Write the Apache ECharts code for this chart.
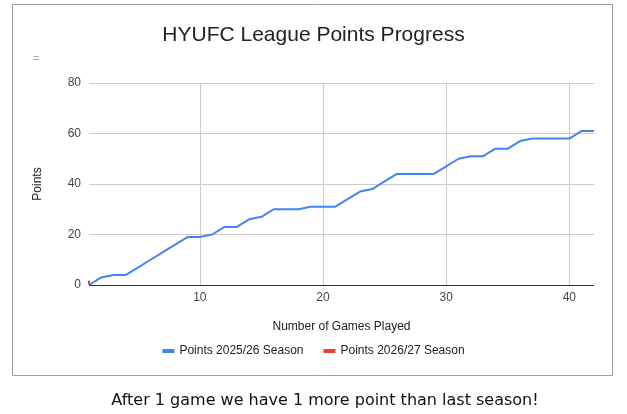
<!DOCTYPE html>
<html>
<head>
<meta charset="utf-8">
<script src="https://cdn.jsdelivr.net/npm/echarts@6/dist/echarts.min.js"></script>
<style>
html,body{margin:0;padding:0;background:#fff;}
#chart{width:627px;height:414px;}
</style>
</head>
<body>
<div id="chart"></div>
<script>
const games = [1,2,3,4,5,6,7,8,9,10,11,12,13,14,15,16,17,18,19,20,21,22,23,24,25,26,27,28,29,30,31,32,33,34,35,36,37,38,39,40,41,42];
const points2526 = [0,3,4,4,7,10,13,16,19,19,20,23,23,26,27,30,30,30,31,31,31,34,37,38,41,44,44,44,44,47,50,51,51,54,54,57,58,58,58,58,61,61];
const games2627 = [1];
const points2627 = [1];
const xTicks = [10,20,30,40];
const yTicks = [0,20,40,60,80];
const titleText = 'HYUFC League Points Progress';
const captionText = 'After 1 game we have 1 more point than last season!';

const chart = echarts.init(document.getElementById('chart'), null, {renderer:'canvas'});
const font = 'Arial, "Liberation Sans", sans-serif';
chart.setOption({
  animation:false,
  backgroundColor:'#fff',
  title:{
    text:titleText, left:'center', top:20,
    textStyle:{fontFamily:font, fontSize:21, fontWeight:'normal', color:'#222'}
  },
  legend:{
    bottom:52, left:'center', icon:'rect', itemWidth:12, itemHeight:4, itemGap:20,
    textStyle:{fontFamily:font, fontSize:12, color:'#222'},
    data:['Points 2025/26 Season','Points 2026/27 Season']
  },
  grid:{left:89, right:33, top:83, bottom:129, containLabel:false},
  xAxis:{
    type:'value', min:1, max:42,
    name:'Number of Games Played', nameLocation:'middle', nameGap:36,
    nameTextStyle:{fontFamily:font, fontSize:12, color:'#222'},
    axisLine:{show:false},
    axisTick:{show:false, customValues:xTicks},
    axisLabel:{customValues:xTicks, fontFamily:font, fontSize:12, color:'#444', margin:7},
    splitLine:{show:true, lineStyle:{color:'#ccc', width:1}}
  },
  yAxis:{
    type:'value', min:0, max:80, interval:20,
    name:'Points', nameLocation:'middle', nameGap:45, nameRotate:90,
    nameTextStyle:{fontFamily:font, fontSize:12, color:'#222'},
    axisLine:{show:false}, axisTick:{show:false},
    axisLabel:{fontFamily:font, fontSize:12, color:'#444', margin:8},
    splitLine:{show:true, lineStyle:{color:'#ccc', width:1}}
  },
  series:[
    {
      name:'Points 2025/26 Season', type:'line', color:'#4285F4',
      showSymbol:false, lineStyle:{width:2, color:'#4285F4'},
      data:games.map((g,i)=>[g, points2526[i]]),
      markLine:{silent:true, symbol:'none', label:{show:false},
        lineStyle:{color:'#333', width:1, type:'solid'}, data:[{yAxis:0}]},
      z:3
    },
    {
      name:'Points 2026/27 Season', type:'line', color:'#EA4335',
      showSymbol:true, symbol:'rect', symbolSize:[2,4], itemStyle:{color:'#EA4335'},
      lineStyle:{width:2, color:'#EA4335'},
      data:games2627.map((g,i)=>[g, points2627[i]]),
      z:4
    }
  ],
  graphic:[
    {type:'rect', shape:{x:12.5, y:4.5, width:600, height:371}, style:{fill:'none', stroke:'#9e9e9e', lineWidth:1}, z:-1},
    {type:'text', left:33, top:53, style:{text:'=', fill:'#aaa', fontSize:11, fontFamily:font}},
    {type:'text', x:325, y:401, style:{text:captionText, fill:'#111', fontSize:16, fontFamily:'"DejaVu Sans", Verdana, sans-serif', textAlign:'center', textVerticalAlign:'middle'}}
  ]
});
</script>
</body>
</html>
